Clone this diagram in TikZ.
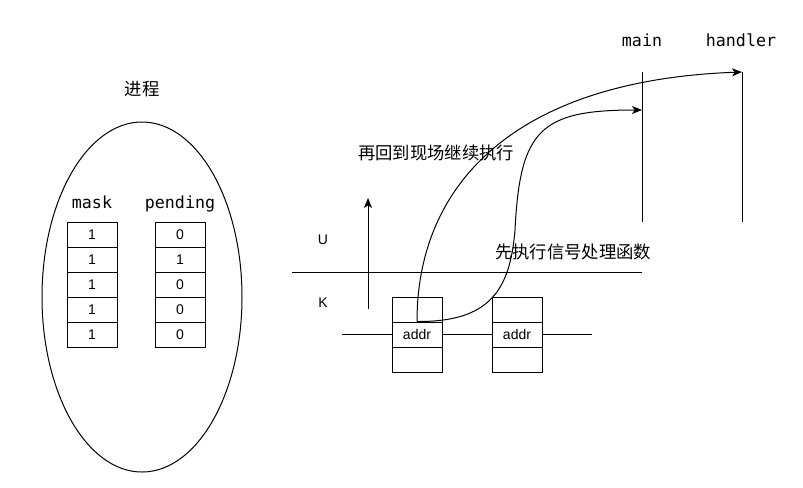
\documentclass[tikz,border=0pt]{standalone}
\usepackage{fontspec}
\setmainfont{Liberation Sans}
\setmonofont{DejaVu Sans Mono}
\newfontfamily\cjk{Noto Sans CJK SC}
\usetikzlibrary{shapes.geometric,arrows.meta}

\tikzset{
  cell/.style={draw, fill=white, minimum width=37.5pt, minimum height=18.75pt, inner sep=0pt, font=\fontsize{10.5}{12}\selectfont},
  title/.style={anchor=base, font=\ttfamily\fontsize{12.5}{14}\selectfont},
  zh/.style={font=\cjk\fontsize{13}{15}\selectfont},
  plain/.style={font=\fontsize{10.5}{12}\selectfont},
  jump/.style={-{Stealth[length=7.5pt,width=6pt,inset=2pt]}},
}

\begin{document}
\begin{tikzpicture}[x=0.75pt,y=-0.75pt,line width=0.75pt]
    \useasboundingbox (0,0) rectangle (803,487);

    % process
    \node[zh] (procTitle) at (142,89) {进程};
    \node[draw,ellipse,minimum width=150pt,minimum height=262.5pt] (proc) at (142,297) {};
    \node[title] (maskTitle) at (92,208) {mask};
    \node[title] (pendTitle) at (180,208) {pending};

    %mask
    \node[cell] (mask1) at (92,234.5) {1};
    \node[cell] (mask2) at (92,259.5) {1};
    \node[cell] (mask3) at (92,284.5) {1};
    \node[cell] (mask4) at (92,309.5) {1};
    \node[cell] (mask5) at (92,334.5) {1};

    %pending
    \node[cell] (pend1) at (180,234.5) {0};
    \node[cell] (pend2) at (180,259.5) {1};
    \node[cell] (pend3) at (180,284.5) {0};
    \node[cell] (pend4) at (180,309.5) {0};
    \node[cell] (pend5) at (180,334.5) {0};

    % user / kernel
    \coordinate (axisBot) at (368,309);
    \coordinate (axisTop) at (368,198);
    \coordinate (ukLeft) at (292,272);
    \coordinate (ukRight) at (642,272);
    \draw[jump] (axisBot) to (axisTop);
    \draw (ukLeft) to (ukRight);
    \node[plain] (userLbl) at (323,240) {U};
    \node[plain] (kernLbl) at (323,303) {K};

    % kernel stack
    \coordinate (stackLeft) at (342,334.5);
    \coordinate (stackRight) at (592,334.5);
    \node[cell] (topA) at (417,309.5) {};
    \node[cell] (addrA) at (417,334.5) {addr};
    \node[cell] (botA) at (417,359.5) {};
    \node[cell] (topB) at (517,309.5) {};
    \node[cell] (addrB) at (517,334.5) {addr};
    \node[cell] (botB) at (517,359.5) {};
    \draw (stackLeft) to (addrA.west);
    \draw (addrA.east) to (addrB.west);
    \draw (addrB.east) to (stackRight);

    % main / handler
    \node[title] (mainLbl) at (642,46) {main};
    \node[title] (handlerLbl) at (741,46) {handler};
    \coordinate (mainTop) at (642,72);
    \coordinate (mainBot) at (642,222);
    \coordinate (mainHit) at (642,110);
    \coordinate (handlerTop) at (742,72);
    \coordinate (handlerBot) at (742,222);
    \draw (mainTop) to (mainBot);
    \draw (handlerTop) to (handlerBot);

    % jumps
    \draw[jump] (addrA.north) .. controls (417,180) and (520,80) .. (handlerTop);
    \draw[jump] (addrA.north) .. controls (490,322) and (510,290) .. (515,230)
        .. controls (520,130) and (540,110) .. (mainHit);
    \node[zh] (backLbl) at (436,153) {再回到现场继续执行};
    \node[zh] (firstLbl) at (573,252) {先执行信号处理函数};

\end{tikzpicture}
\end{document}
